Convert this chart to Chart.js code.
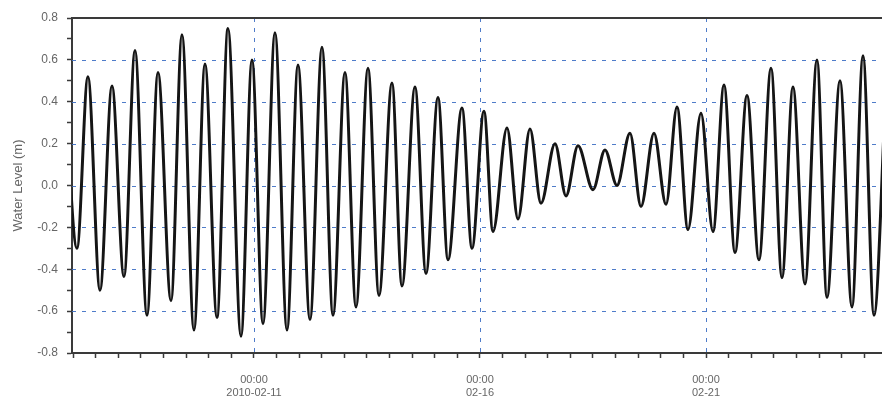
<!DOCTYPE html>
<html><head><meta charset="utf-8">
<script src="https://cdn.jsdelivr.net/npm/chart.js@4/dist/chart.umd.min.js"></script>
<style>html,body{margin:0;padding:0;background:#fff;overflow:hidden}#wrap{width:882px;height:405px}</style>
</head><body><div id="wrap"><canvas id="c" width="882" height="405"></canvas></div>
<script>
// Observation times (UTC) of successive high / low waters
const times = [
 '2010-02-06T19:40','2010-02-07T02:00','2010-02-07T07:50','2010-02-07T14:14','2010-02-07T20:36',
 '2010-02-08T02:58','2010-02-08T08:49','2010-02-08T15:11','2010-02-08T21:02',
 '2010-02-09T03:56','2010-02-09T09:46','2010-02-09T16:08','2010-02-09T21:59',
 '2010-02-10T04:21','2010-02-10T10:11','2010-02-10T17:06','2010-02-10T22:56',
 '2010-02-11T04:47','2010-02-11T11:09','2010-02-11T17:31','2010-02-11T23:22',
 '2010-02-12T05:44','2010-02-12T12:06','2010-02-12T17:57',
 '2010-02-13T00:19','2010-02-13T06:10','2010-02-13T12:32','2010-02-13T18:22',
 '2010-02-14T01:16','2010-02-14T06:35','2010-02-14T13:29','2010-02-14T19:20',
 '2010-02-15T01:42','2010-02-15T07:01','2010-02-15T14:26','2010-02-15T19:45',
 '2010-02-16T02:07','2010-02-16T06:54','2010-02-16T14:20','2010-02-16T20:11',
 '2010-02-17T02:33','2010-02-17T08:23','2010-02-17T15:49','2010-02-17T21:40',
 '2010-02-18T04:02','2010-02-18T12:00','2010-02-18T18:22',
 '2010-02-19T00:44','2010-02-19T07:38','2010-02-19T13:29','2010-02-19T20:23',
 '2010-02-20T02:46','2010-02-20T08:36','2010-02-20T14:26','2010-02-20T21:20',
 '2010-02-21T03:43','2010-02-21T09:34','2010-02-21T15:24','2010-02-21T21:46',
 '2010-02-22T04:08','2010-02-22T10:31','2010-02-22T16:21','2010-02-22T22:11',
 '2010-02-23T04:34','2010-02-23T10:56','2010-02-23T16:15','2010-02-23T23:09',
 '2010-02-24T05:31','2010-02-24T11:22','2010-02-24T17:12','2010-02-24T23:34'
];
// Water level (m) at those times
const levels = [
 0.42,-0.30,0.52,-0.50,0.475,
 -0.435,0.645,-0.62,0.54,
 -0.55,0.72,-0.69,0.58,
 -0.63,0.75,-0.72,0.60,
 -0.66,0.73,-0.69,0.575,
 -0.64,0.66,-0.62,
 0.54,-0.58,0.56,-0.525,
 0.49,-0.48,0.47,-0.42,
 0.42,-0.355,0.37,-0.30,
 0.355,-0.22,0.275,-0.16,
 0.27,-0.085,0.20,-0.05,
 0.19,-0.02,0.17,
 0.0,0.25,-0.10,0.25,
 -0.09,0.375,-0.21,0.345,
 -0.22,0.48,-0.32,0.43,
 -0.355,0.56,-0.44,0.47,
 -0.47,0.60,-0.535,0.50,
 -0.58,0.62,-0.62,0.48
];
const axisStart = '2010-02-06T23:22';
const axisEnd = '2010-02-24T21:27';
const majorDays = ['2010-02-11T00:00','2010-02-16T00:00','2010-02-21T00:00'];
const majorLabels = [['00:00','2010-02-11'],['00:00','02-16'],['00:00','02-21']];
const yMin = -0.8, yMax = 0.8, yStep = 0.1;
const yGridValues = [0.6, 0.4, 0.2, 0.0, -0.2, -0.4, -0.6];

const toMs = s => Date.parse(s + ':00Z');
const HALF_DAY = 12 * 3600 * 1000;
const majorMs = majorDays.map(toMs);
const points = times.map((t, i) => ({x: toMs(t), y: levels[i]}));

const gridBlue = 'rgba(60,110,195,0.9)';
const axisDark = '#3a3a3a';
const textGrey = '#666666';
const fontFam = '"Liberation Sans", Arial, sans-serif';

const dottedGrid = {
  id: 'dottedGrid',
  beforeDatasetsDraw(chart) {
    const {ctx, chartArea, scales} = chart;
    ctx.save();
    ctx.strokeStyle = gridBlue;
    ctx.lineWidth = 1;
    ctx.setLineDash([4, 6]);
    yGridValues.forEach(v => {
      const y = Math.round(scales.y.getPixelForValue(v)) + 0.5;
      ctx.beginPath(); ctx.moveTo(chartArea.left, y); ctx.lineTo(chartArea.right, y); ctx.stroke();
    });
    majorMs.forEach(v => {
      const x = Math.round(scales.x.getPixelForValue(v)) + 0.5;
      ctx.beginPath(); ctx.moveTo(x, chartArea.top); ctx.lineTo(x, chartArea.bottom); ctx.stroke();
    });
    ctx.restore();
  },
  afterDraw(chart) {
    const {ctx, chartArea} = chart;
    ctx.save();
    ctx.strokeStyle = axisDark;
    ctx.lineWidth = 2;
    ctx.beginPath();
    ctx.moveTo(chartArea.left, chartArea.top);
    ctx.lineTo(chartArea.right, chartArea.top);
    ctx.stroke();
    ctx.restore();
  }
};

new Chart(document.getElementById('c'), {
  type: 'line',
  data: {datasets: [{
    data: points,
    borderColor: '#151515',
    borderWidth: 3,
    pointRadius: 0,
    fill: false,
    cubicInterpolationMode: 'monotone'
  }]},
  options: {
    responsive: false,
    animation: false,
    devicePixelRatio: 1,
    layout: {padding: {top: 18, left: 0, right: 0, bottom: 0}},
    plugins: {legend: {display: false}, tooltip: {enabled: false}},
    scales: {
      x: {
        type: 'linear',
        min: toMs(axisStart),
        max: toMs(axisEnd),
        afterFit: s => { s.height = 52; },
        afterBuildTicks: s => {
          const ticks = [];
          for (let v = Math.ceil(s.min / HALF_DAY) * HALF_DAY; v <= s.max; v += HALF_DAY) ticks.push({value: v});
          s.ticks = ticks;
        },
        ticks: {
          autoSkip: false,
          maxRotation: 0,
          padding: 15,
          color: textGrey,
          font: {family: fontFam, size: 11},
          callback: v => {
            const k = majorMs.indexOf(v);
            return k >= 0 ? majorLabels[k] : '';
          }
        },
        grid: {
          drawOnChartArea: false,
          color: axisDark,
          tickColor: axisDark,
          tickLength: 5,
          tickWidth: 1.5
        },
        border: {color: axisDark, width: 2}
      },
      y: {
        min: yMin, max: yMax,
        afterFit: s => { s.width = 72; },
        ticks: {
          stepSize: yStep,
          padding: 9,
          color: textGrey,
          font: {family: fontFam, size: 12},
          callback: v => {
            const n = Math.round(v * 10);
            return (n % 2 === 0) ? (n / 10).toFixed(1) : '';
          }
        },
        grid: {
          drawOnChartArea: false,
          color: axisDark,
          tickColor: axisDark,
          tickLength: 5,
          tickWidth: 1.5
        },
        border: {color: axisDark, width: 2},
        title: {
          display: true,
          text: 'Water Level (m)',
          color: textGrey,
          font: {family: fontFam, size: 13},
          padding: {top: 11, bottom: 0}
        }
      }
    }
  },
  plugins: [dottedGrid]
});
</script>
</body></html>
